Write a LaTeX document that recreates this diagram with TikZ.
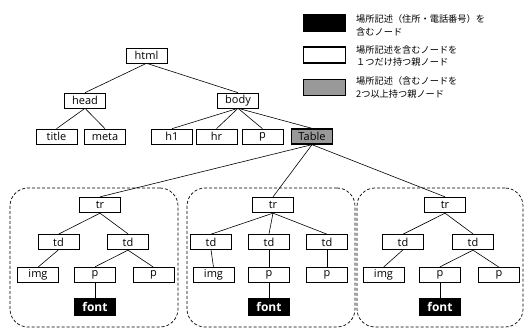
\documentclass[tikz,border=0pt]{standalone}
\usepackage{fontspec}
\setmainfont{Open Sans}
\newfontfamily\jpfont{Noto Sans CJK JP}
\begin{document}
\begin{tikzpicture}[x=1pt,y=-1pt,
    tag/.style={draw, line width=0.6pt, minimum width=41pt, minimum height=15pt, inner sep=0pt, font=\fontsize{11}{11}\selectfont},
    keytag/.style={tag, line width=1.3pt},
    tabletag/.style={keytag, fill=gray!80},
    fonttag/.style={fill=black, text=white, minimum width=42pt, minimum height=18pt, inner sep=0pt, font=\fontsize{12}{12}\selectfont\bfseries},
    group/.style={draw, densely dashed, line width=0.7pt, rounded corners=18pt, inner sep=0pt},
    legendbox/.style={draw, line width=1.3pt, minimum width=42pt, minimum height=16pt, inner sep=0pt},
    legendtext/.style={anchor=west, align=left, inner sep=0pt, font=\jpfont\fontsize{9.2}{12.5}\selectfont},
    link/.style={line width=0.6pt}]
    \useasboundingbox (0,0) rectangle (529,328);

    % Groups around the three rows of the table
    \node[group, minimum width=168pt, minimum height=139pt] (grpA) at (94,257.5) {};
    \node[group, minimum width=168pt, minimum height=139pt] (grpB) at (271,257.5) {};
    \node[group, minimum width=166pt, minimum height=139pt] (grpC) at (440,257.5) {};

    % Upper tree
    \node[tag] (html) at (146.5,55.5) {html};
    \node[tag] (head) at (85,100.5) {head};
    \node[tag] (body) at (238,100.5) {body};
    \node[tag] (title) at (56.5,136.5) {title};
    \node[tag] (meta) at (105,136.5) {meta};
    \node[tag] (h1) at (172,136.5) {h1};
    \node[tag] (hr) at (216.5,136.5) {hr};
    \node[tag] (pb) at (262.5,136.5) {p};
    \node[tabletag] (table) at (312,136.5) {Table};

    \draw[link] (html.south) -- (head.north);
    \draw[link] (html.south) -- (body.north);
    \draw[link] (head.south) -- (title.north);
    \draw[link] (head.south) -- (meta.north);
    \draw[link] (body.south) -- (h1.north);
    \draw[link] (body.south) -- (hr.north);
    \draw[link] (body.south) -- (pb.north);
    \draw[link] (body.south) -- (table.north);

    % Row A
    \node[keytag] (trA) at (100,205) {tr};
    \node[tag] (tdA1) at (58.5,242) {td};
    \node[keytag] (tdA2) at (128,242) {td};
    \node[tag] (imgA) at (38,275) {img};
    \node[keytag] (pA1) at (95,275) {p};
    \node[tag] (pA2) at (153.5,275) {p};
    \node[fonttag] (fontA) at (95,307) {font};

    \draw[link] (trA.south) -- (tdA1.north);
    \draw[link] (trA.south) -- (tdA2.north);
    \draw[link] (tdA1.south) -- (imgA.north);
    \draw[link] (tdA2.south) -- (pA1.north);
    \draw[link] (tdA2.south) -- (pA2.north);
    \draw[link] (pA1.south) -- (fontA.north);

    % Row B
    \node[keytag] (trB) at (273,205) {tr};
    \node[tag] (tdB1) at (211,242) {td};
    \node[keytag] (tdB2) at (269,242) {td};
    \node[tag] (tdB3) at (327,242) {td};
    \node[tag] (imgB) at (213.5,275) {img};
    \node[keytag] (pB1) at (269,275) {p};
    \node[tag] (pB2) at (327,275) {p};
    \node[fonttag] (fontB) at (269,307) {font};

    \draw[link] (trB.south) -- (tdB1.north);
    \draw[link] (trB.south) -- (tdB2.north);
    \draw[link] (trB.south) -- (tdB3.north);
    \draw[link] (tdB1.south) -- (imgB.north);
    \draw[link] (tdB2.south) -- (pB1.north);
    \draw[link] (tdB3.south) -- (pB2.north);
    \draw[link] (pB1.south) -- (fontB.north);

    % Row C
    \node[keytag] (trC) at (445,205) {tr};
    \node[tag] (tdC1) at (403,242) {td};
    \node[keytag] (tdC2) at (473,242) {td};
    \node[tag] (imgC) at (383.5,275) {img};
    \node[keytag] (pC1) at (440,275) {p};
    \node[tag] (pC2) at (499,275) {p};
    \node[fonttag] (fontC) at (440,307) {font};

    \draw[link] (trC.south) -- (tdC1.north);
    \draw[link] (trC.south) -- (tdC2.north);
    \draw[link] (tdC1.south) -- (imgC.north);
    \draw[link] (tdC2.south) -- (pC1.north);
    \draw[link] (tdC2.south) -- (pC2.north);
    \draw[link] (pC1.south) -- (fontC.north);

    % Table to rows
    \draw[link] (table.south) -- (trA.north);
    \draw[link] (table.south) -- (trB.north);
    \draw[link] (table.south) -- (trC.north);

    % Legend
    \node[legendbox, fill=black] (keyA) at (324.5,23) {};
    \node[legendbox, fill=white] (keyB) at (324.5,55) {};
    \node[legendbox, fill=gray!80] (keyC) at (324.5,87.5) {};
    \node[legendtext] (textA) at (356,25.5) {場所記述（住所・電話番号）を\\含むノード};
    \node[legendtext] (textB) at (356,56) {場所記述を含むノードを\\１つだけ持つ親ノード};
    \node[legendtext] (textC) at (356,87.5) {場所記述（含むノードを\\2つ以上持つ親ノード};
\end{tikzpicture}
\end{document}
